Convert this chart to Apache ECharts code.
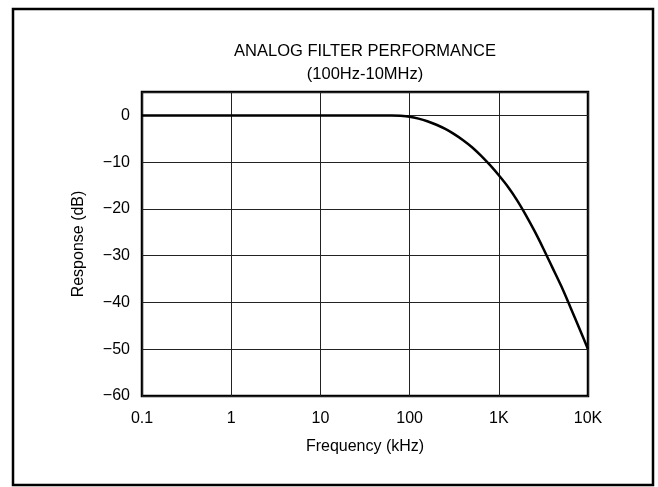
<!DOCTYPE html>
<html>
<head>
<meta charset="utf-8">
<script src="https://cdn.jsdelivr.net/npm/echarts@6/dist/echarts.min.js"></script>
<style>
html,body{margin:0;padding:0;background:#fff;}
#chart{width:658px;height:487px;}
</style>
</head>
<body>
<div id="chart"></div>
<script>
// Data
var titleText = 'ANALOG FILTER PERFORMANCE';
var subtitleText = '(100Hz-10MHz)';
var xAxisName = 'Frequency (kHz)';
var yAxisName = 'Response (dB)';
var frequencyKHz = [0.1, 1, 10, 40, 63, 79, 100, 126, 158, 200, 251, 316, 398, 501, 631, 794, 1000, 1259, 1585, 1995, 2512, 3162, 3981, 5012, 6310, 7943, 10000];
var responseDb   = [0, 0, 0, 0, 0, -0.1, -0.3, -0.7, -1.25, -2.0, -2.9, -4.0, -5.3, -6.8, -8.6, -10.6, -12.8, -15.2, -18.0, -21.2, -24.7, -28.5, -32.5, -36.5, -40.9, -45.4, -50];
var xTickLabels = {'0.1':'0.1','1':'1','10':'10','100':'100','1000':'1K','10000':'10K'};

var seriesData = frequencyKHz.map(function(f, i){ return [f, responseDb[i]]; });

var chart = echarts.init(document.getElementById('chart'), null, {renderer:'canvas'});
var font = 'Liberation Sans, Arial, Helvetica, sans-serif';
chart.setOption({
  animation:false,
  backgroundColor:'#fff',
  textStyle:{fontFamily:font},
  grid:{left:142, top:92, width:446, height:304, show:true, borderColor:'#000', borderWidth:2.5, backgroundColor:'transparent'},
  graphic:[
    {type:'rect', shape:{x:13, y:9, width:640, height:476}, style:{fill:'none', stroke:'#000', lineWidth:2.5}, z:-1},
    {type:'text', x:365, y:51, style:{text:titleText, fontFamily:font, fontSize:16.5, fill:'#000', align:'center', verticalAlign:'middle'}},
    {type:'text', x:365, y:74, style:{text:subtitleText, fontFamily:font, fontSize:16.5, fill:'#000', align:'center', verticalAlign:'middle'}}
  ],
  xAxis:{
    type:'log', logBase:10, min:0.1, max:10000,
    name:xAxisName, nameLocation:'middle', nameGap:43,
    nameTextStyle:{fontSize:16, color:'#000', fontFamily:font},
    axisLine:{show:false}, axisTick:{show:false},
    axisLabel:{fontSize:16, color:'#000', margin:15, fontFamily:font,
      formatter:function(v){ var k = String(parseFloat(Number(v).toPrecision(6))); return xTickLabels[k] !== undefined ? xTickLabels[k] : ''; }},
    splitLine:{show:true, lineStyle:{color:'#222', width:1}},
    minorTick:{show:false}
  },
  yAxis:{
    type:'value', min:-60, max:5, interval:10,
    name:yAxisName, nameLocation:'middle', nameGap:55, nameRotate:90,
    nameTextStyle:{fontSize:16, color:'#000', fontFamily:font},
    axisLine:{show:false}, axisTick:{show:false},
    axisLabel:{fontSize:16, color:'#000', margin:12, fontFamily:font, showMaxLabel:false,
      formatter:function(v){ if (v > 0) return ''; return v < 0 ? '\u2212' + Math.abs(v) : String(v); }},
    splitLine:{show:true, lineStyle:{color:'#222', width:1}}
  },
  series:[{
    type:'line', data:seriesData, smooth:0.3, showSymbol:false, symbol:'none',
    lineStyle:{color:'#000', width:2.5}, z:5
  }]
});
</script>
</body>
</html>
